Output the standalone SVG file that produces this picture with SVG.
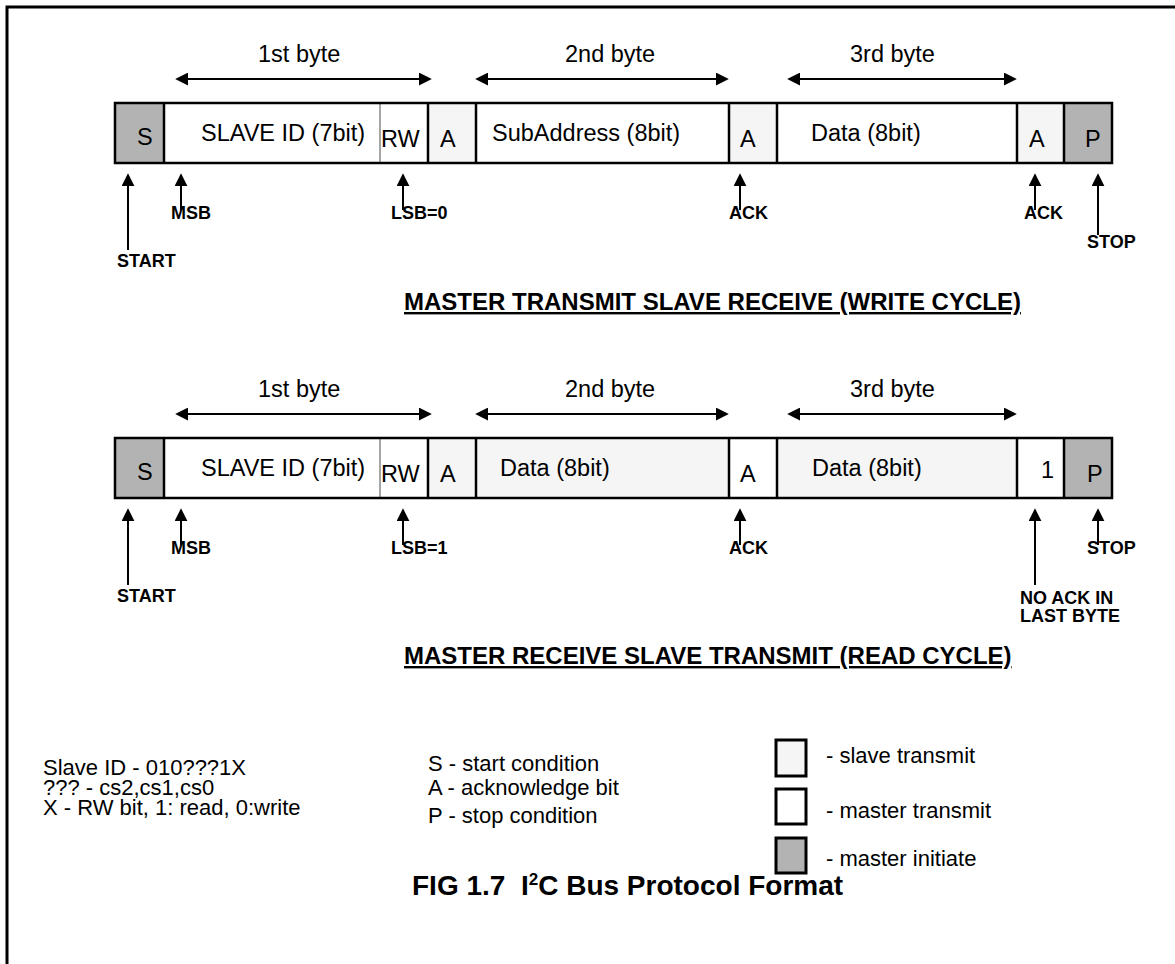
<svg xmlns="http://www.w3.org/2000/svg" width="1175" height="964" viewBox="0 0 1175 964">
<style>
text{font-family:"Liberation Sans",Arial,sans-serif;fill:#000}
.t{font-size:23.5px}
.b{font-size:18px;font-weight:bold}
.h{font-size:24px;font-weight:bold;text-decoration:underline}
.lg{font-size:22px}
.c{stroke:#000;stroke-width:2.5}
.k{stroke:#000;stroke-width:3}
.dg{fill:#b3b3b3}
.lt{fill:#f5f5f5}
.wh{fill:#fff}
.sep{stroke:#000;stroke-width:2.5}
.thin{stroke:#888;stroke-width:1.5}
.ar{stroke:#000;stroke-width:2;fill:none}
</style>
<defs>
<marker id="ah" markerUnits="userSpaceOnUse" markerWidth="13" markerHeight="13" refX="2" refY="6" orient="auto-start-reverse" viewBox="0 0 12 12">
<path d="M0,0 L12,6 L0,12 z" fill="#000"/>
</marker>
</defs>
<rect width="1175" height="964" fill="#fff"/>
<path d="M7,964 V7 H1175" fill="none" stroke="#000" stroke-width="3"/>

<!-- Row 1: write cycle -->
<g id="row1">
<g id="r1-S"><rect x="115" y="103" width="49" height="60" class="dg"/><text x="137" y="145" class="t">S</text></g>
<g id="r1-slaveid"><rect x="164" y="103" width="216" height="60" class="wh"/><text x="201" y="141" class="t">SLAVE ID (7bit)</text></g>
<g id="r1-rw"><rect x="380" y="103" width="48" height="60" class="wh"/><text x="381" y="147" class="t">RW</text></g>
<g id="r1-a1"><rect x="428" y="103" width="48" height="60" class="lt"/><text x="440" y="147" class="t">A</text></g>
<g id="r1-sub"><rect x="476" y="103" width="253" height="60" class="wh"/><text x="492" y="141" class="t">SubAddress (8bit)</text></g>
<g id="r1-a2"><rect x="729" y="103" width="48" height="60" class="lt"/><text x="740" y="147" class="t">A</text></g>
<g id="r1-data"><rect x="777" y="103" width="240" height="60" class="wh"/><text x="811" y="141" class="t">Data (8bit)</text></g>
<g id="r1-a3"><rect x="1017" y="103" width="47" height="60" class="lt"/><text x="1029" y="147" class="t">A</text></g>
<g id="r1-P"><rect x="1064" y="103" width="48" height="60" class="dg"/><text x="1085" y="147" class="t">P</text></g>
<g fill="none">
<line x1="164" y1="103" x2="164" y2="163" class="sep"/>
<line x1="380" y1="103" x2="380" y2="163" class="thin"/>
<line x1="428" y1="103" x2="428" y2="163" class="sep"/>
<line x1="476" y1="103" x2="476" y2="163" class="sep"/>
<line x1="729" y1="103" x2="729" y2="163" class="sep"/>
<line x1="777" y1="103" x2="777" y2="163" class="sep"/>
<line x1="1017" y1="103" x2="1017" y2="163" class="sep"/>
<line x1="1064" y1="103" x2="1064" y2="163" class="sep"/>
<rect x="115" y="103" width="997" height="60" class="c"/>
</g>
</g>

<!-- Row 2: read cycle -->
<g id="row2">
<g id="r2-S"><rect x="115" y="438" width="49" height="60" class="dg"/><text x="137" y="480" class="t">S</text></g>
<g id="r2-slaveid"><rect x="164" y="438" width="216" height="60" class="wh"/><text x="201" y="476" class="t">SLAVE ID (7bit)</text></g>
<g id="r2-rw"><rect x="380" y="438" width="48" height="60" class="wh"/><text x="381" y="482" class="t">RW</text></g>
<g id="r2-a1"><rect x="428" y="438" width="48" height="60" class="lt"/><text x="440" y="482" class="t">A</text></g>
<g id="r2-data1"><rect x="476" y="438" width="253" height="60" class="lt"/><text x="500" y="476" class="t">Data (8bit)</text></g>
<g id="r2-a2"><rect x="729" y="438" width="48" height="60" class="wh"/><text x="740" y="482" class="t">A</text></g>
<g id="r2-data2"><rect x="777" y="438" width="240" height="60" class="lt"/><text x="812" y="476" class="t">Data (8bit)</text></g>
<g id="r2-one"><rect x="1017" y="438" width="47" height="60" class="wh"/><text x="1041" y="478" class="t">1</text></g>
<g id="r2-P"><rect x="1064" y="438" width="48" height="60" class="dg"/><text x="1087" y="482" class="t">P</text></g>
<g fill="none">
<line x1="164" y1="438" x2="164" y2="498" class="sep"/>
<line x1="380" y1="438" x2="380" y2="498" class="thin"/>
<line x1="428" y1="438" x2="428" y2="498" class="sep"/>
<line x1="476" y1="438" x2="476" y2="498" class="sep"/>
<line x1="729" y1="438" x2="729" y2="498" class="sep"/>
<line x1="777" y1="438" x2="777" y2="498" class="sep"/>
<line x1="1017" y1="438" x2="1017" y2="498" class="sep"/>
<line x1="1064" y1="438" x2="1064" y2="498" class="sep"/>
<rect x="115" y="438" width="997" height="60" class="c"/>
</g>
</g>

<!-- Connectors -->
<g id="connectors" class="ar">
<line x1="186" y1="79" x2="421" y2="79" marker-start="url(#ah)" marker-end="url(#ah)"/>
<line x1="486" y1="79" x2="718" y2="79" marker-start="url(#ah)" marker-end="url(#ah)"/>
<line x1="798" y1="79" x2="1006" y2="79" marker-start="url(#ah)" marker-end="url(#ah)"/>
<line x1="128" y1="250" x2="128" y2="184" marker-end="url(#ah)"/>
<line x1="181" y1="210" x2="181" y2="184" marker-end="url(#ah)"/>
<line x1="403" y1="210" x2="403" y2="184" marker-end="url(#ah)"/>
<line x1="740" y1="210" x2="740" y2="184" marker-end="url(#ah)"/>
<line x1="1035" y1="210" x2="1035" y2="184" marker-end="url(#ah)"/>
<line x1="1098" y1="235" x2="1098" y2="184" marker-end="url(#ah)"/>

<line x1="186" y1="414" x2="421" y2="414" marker-start="url(#ah)" marker-end="url(#ah)"/>
<line x1="486" y1="414" x2="718" y2="414" marker-start="url(#ah)" marker-end="url(#ah)"/>
<line x1="798" y1="414" x2="1006" y2="414" marker-start="url(#ah)" marker-end="url(#ah)"/>
<line x1="128" y1="585" x2="128" y2="519" marker-end="url(#ah)"/>
<line x1="181" y1="545" x2="181" y2="519" marker-end="url(#ah)"/>
<line x1="403" y1="545" x2="403" y2="519" marker-end="url(#ah)"/>
<line x1="740" y1="545" x2="740" y2="519" marker-end="url(#ah)"/>
<line x1="1035" y1="585" x2="1035" y2="519" marker-end="url(#ah)"/>
<line x1="1098" y1="545" x2="1098" y2="519" marker-end="url(#ah)"/>
</g>

<!-- Labels -->
<g id="labels-row1">
<text x="258" y="62" class="t">1st byte</text>
<text x="565" y="62" class="t">2nd byte</text>
<text x="850" y="62" class="t">3rd byte</text>
<text x="117" y="267" class="b">START</text>
<text x="171" y="219" class="b">MSB</text>
<text x="391" y="219" class="b">LSB=0</text>
<text x="729" y="219" class="b">ACK</text>
<text x="1024" y="219" class="b">ACK</text>
<text x="1087" y="248" class="b">STOP</text>
<text x="404" y="310" class="h">MASTER TRANSMIT SLAVE RECEIVE (WRITE CYCLE)</text>
</g>
<g id="labels-row2">
<text x="258" y="397" class="t">1st byte</text>
<text x="565" y="397" class="t">2nd byte</text>
<text x="850" y="397" class="t">3rd byte</text>
<text x="117" y="602" class="b">START</text>
<text x="171" y="554" class="b">MSB</text>
<text x="391" y="554" class="b">LSB=1</text>
<text x="729" y="554" class="b">ACK</text>
<text x="1020" y="604" class="b">NO ACK IN</text>
<text x="1020" y="622" class="b">LAST BYTE</text>
<text x="1087" y="554" class="b">STOP</text>
<text x="404" y="664" class="h">MASTER RECEIVE SLAVE TRANSMIT (READ CYCLE)</text>
</g>

<!-- Legend -->
<g id="legend-notes">
<text x="43" y="775" class="lg">Slave ID - 010???1X</text>
<text x="43" y="795" class="lg">??? - cs2,cs1,cs0</text>
<text x="43" y="815" class="lg">X - RW bit, 1: read, 0:write</text>
</g>
<g id="legend-symbols">
<text x="428" y="771" class="lg">S - start condition</text>
<text x="428" y="795" class="lg">A - acknowledge bit</text>
<text x="428" y="823" class="lg">P - stop condition</text>
</g>
<g id="legend-keys">
<rect x="776" y="740" width="30" height="36" class="lt k"/>
<text x="826" y="763" class="lg">- slave transmit</text>
<rect x="776" y="789" width="30" height="35" class="wh k"/>
<text x="826" y="818" class="lg">- master transmit</text>
<rect x="776" y="838" width="30" height="35" class="dg k"/>
<text x="826" y="866" class="lg">- master initiate</text>
</g>
<g id="title">
<text x="412" y="895" style="font-size:28px;font-weight:bold">FIG 1.7&#160; I<tspan dy="-10" style="font-size:17px">2</tspan><tspan dy="10">C Bus Protocol Format</tspan></text>
</g>
</svg>
